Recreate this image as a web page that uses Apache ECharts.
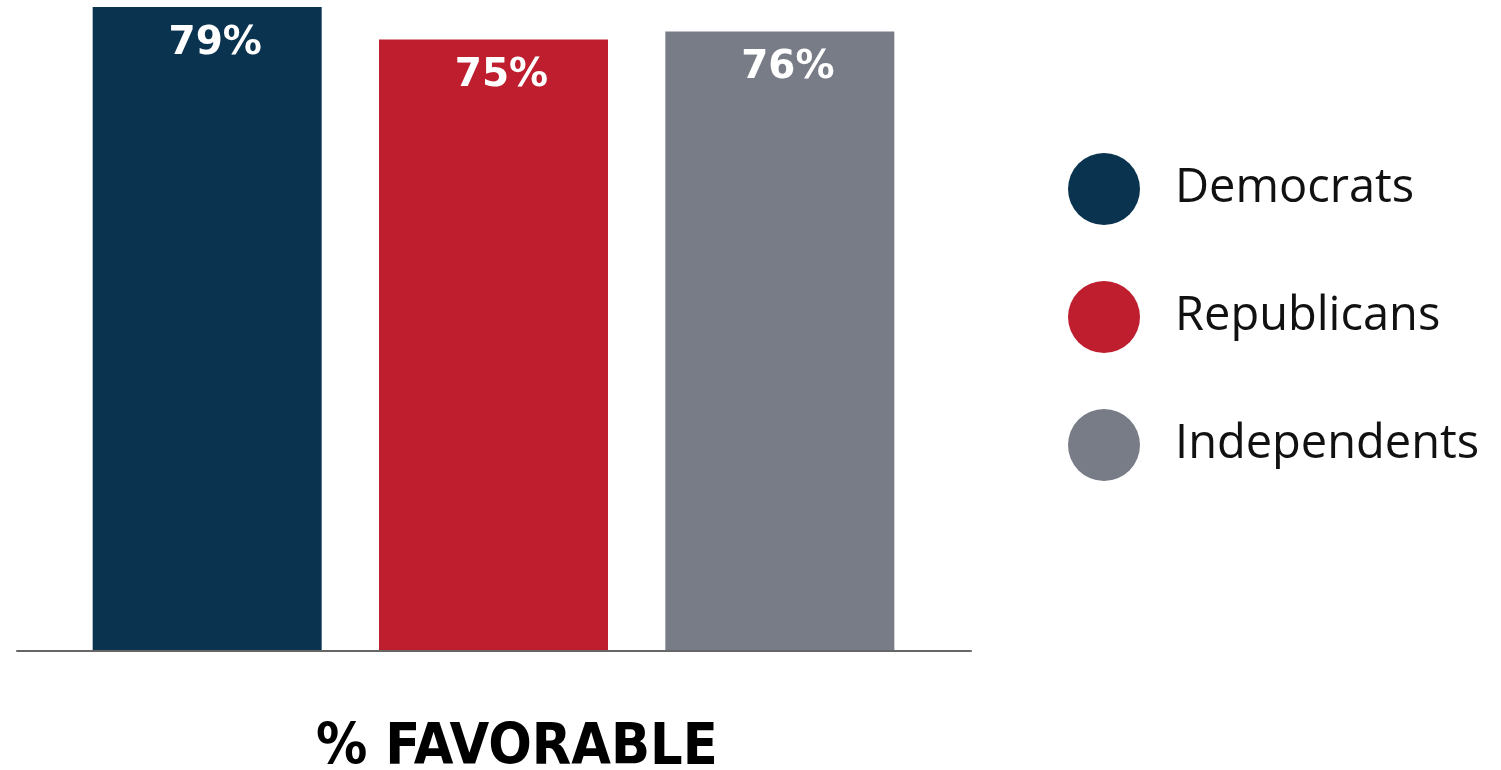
<!DOCTYPE html>
<html>
<head>
<meta charset="utf-8">
<script src="https://cdn.jsdelivr.net/npm/echarts@6/dist/echarts.min.js"></script>
<style>html,body{margin:0;padding:0;background:#fff;}#c{width:1501px;height:770px;}</style>
</head>
<body>
<div id="c"></div>
<script>
const categories = ['Democrats', 'Republicans', 'Independents'];
const values = [79, 75, 76];
const colors = ['#0a3350', '#be1e2e', '#777c87'];
const titleText = '% FAVORABLE';

const chart = echarts.init(document.getElementById('c'));
const series = categories.map((name, i) => ({
  name: name,
  type: 'bar',
  xAxisIndex: 0,
  yAxisIndex: 0,
  barWidth: 229,
  barGap: '-100%',
  itemStyle: { color: colors[i] },
  data: categories.map((c, j) => (j === i ? values[i] : '-')),
  label: {
    show: true,
    position: 'insideTop',
    distance: 17,
    offset: [8, 0],
    formatter: '{c}%',
    color: '#fff',
    fontFamily: 'DejaVu Sans',
    fontWeight: 'bold',
    fontSize: 39
  }
}));
// baseline axis on a second, wider grid
series.push({ type: 'line', xAxisIndex: 1, yAxisIndex: 1, data: [], silent: true });

chart.setOption({
  animation: false,
  backgroundColor: '#fff',
  title: {
    text: titleText,
    left: 316,
    top: 721,
    padding: 0,
    textStyle: { fontFamily: 'DejaVu Sans Condensed', fontWeight: 'bold', fontSize: 57, color: '#000' }
  },
  legend: {
    orient: 'vertical',
    left: 1068,
    top: 153,
    padding: 0,
    itemWidth: 72,
    itemHeight: 72,
    itemGap: 56,
    icon: 'circle',
    data: categories,
    textStyle: { fontFamily: 'Open Sans', fontSize: 47, color: '#111', padding: [6, 0, 0, 30] }
  },
  grid: [
    { left: 64, right: 578, top: 7, bottom: 120 },
    { left: 17, right: 530, top: 7, bottom: 119 }
  ],
  xAxis: [
    { type: 'category', gridIndex: 0, data: categories, axisLine: { show: false }, axisTick: { show: false }, axisLabel: { show: false } },
    { type: 'value', gridIndex: 1, min: 0, max: 1, axisLine: { show: true, lineStyle: { color: '#666', width: 2 } }, axisTick: { show: false }, axisLabel: { show: false }, splitLine: { show: false } }
  ],
  yAxis: [
    { type: 'value', gridIndex: 0, min: 0, max: 79, show: false, splitLine: { show: false } },
    { type: 'value', gridIndex: 1, min: 0, max: 1, show: false, splitLine: { show: false } }
  ],
  series: series
});
</script>
</body>
</html>
